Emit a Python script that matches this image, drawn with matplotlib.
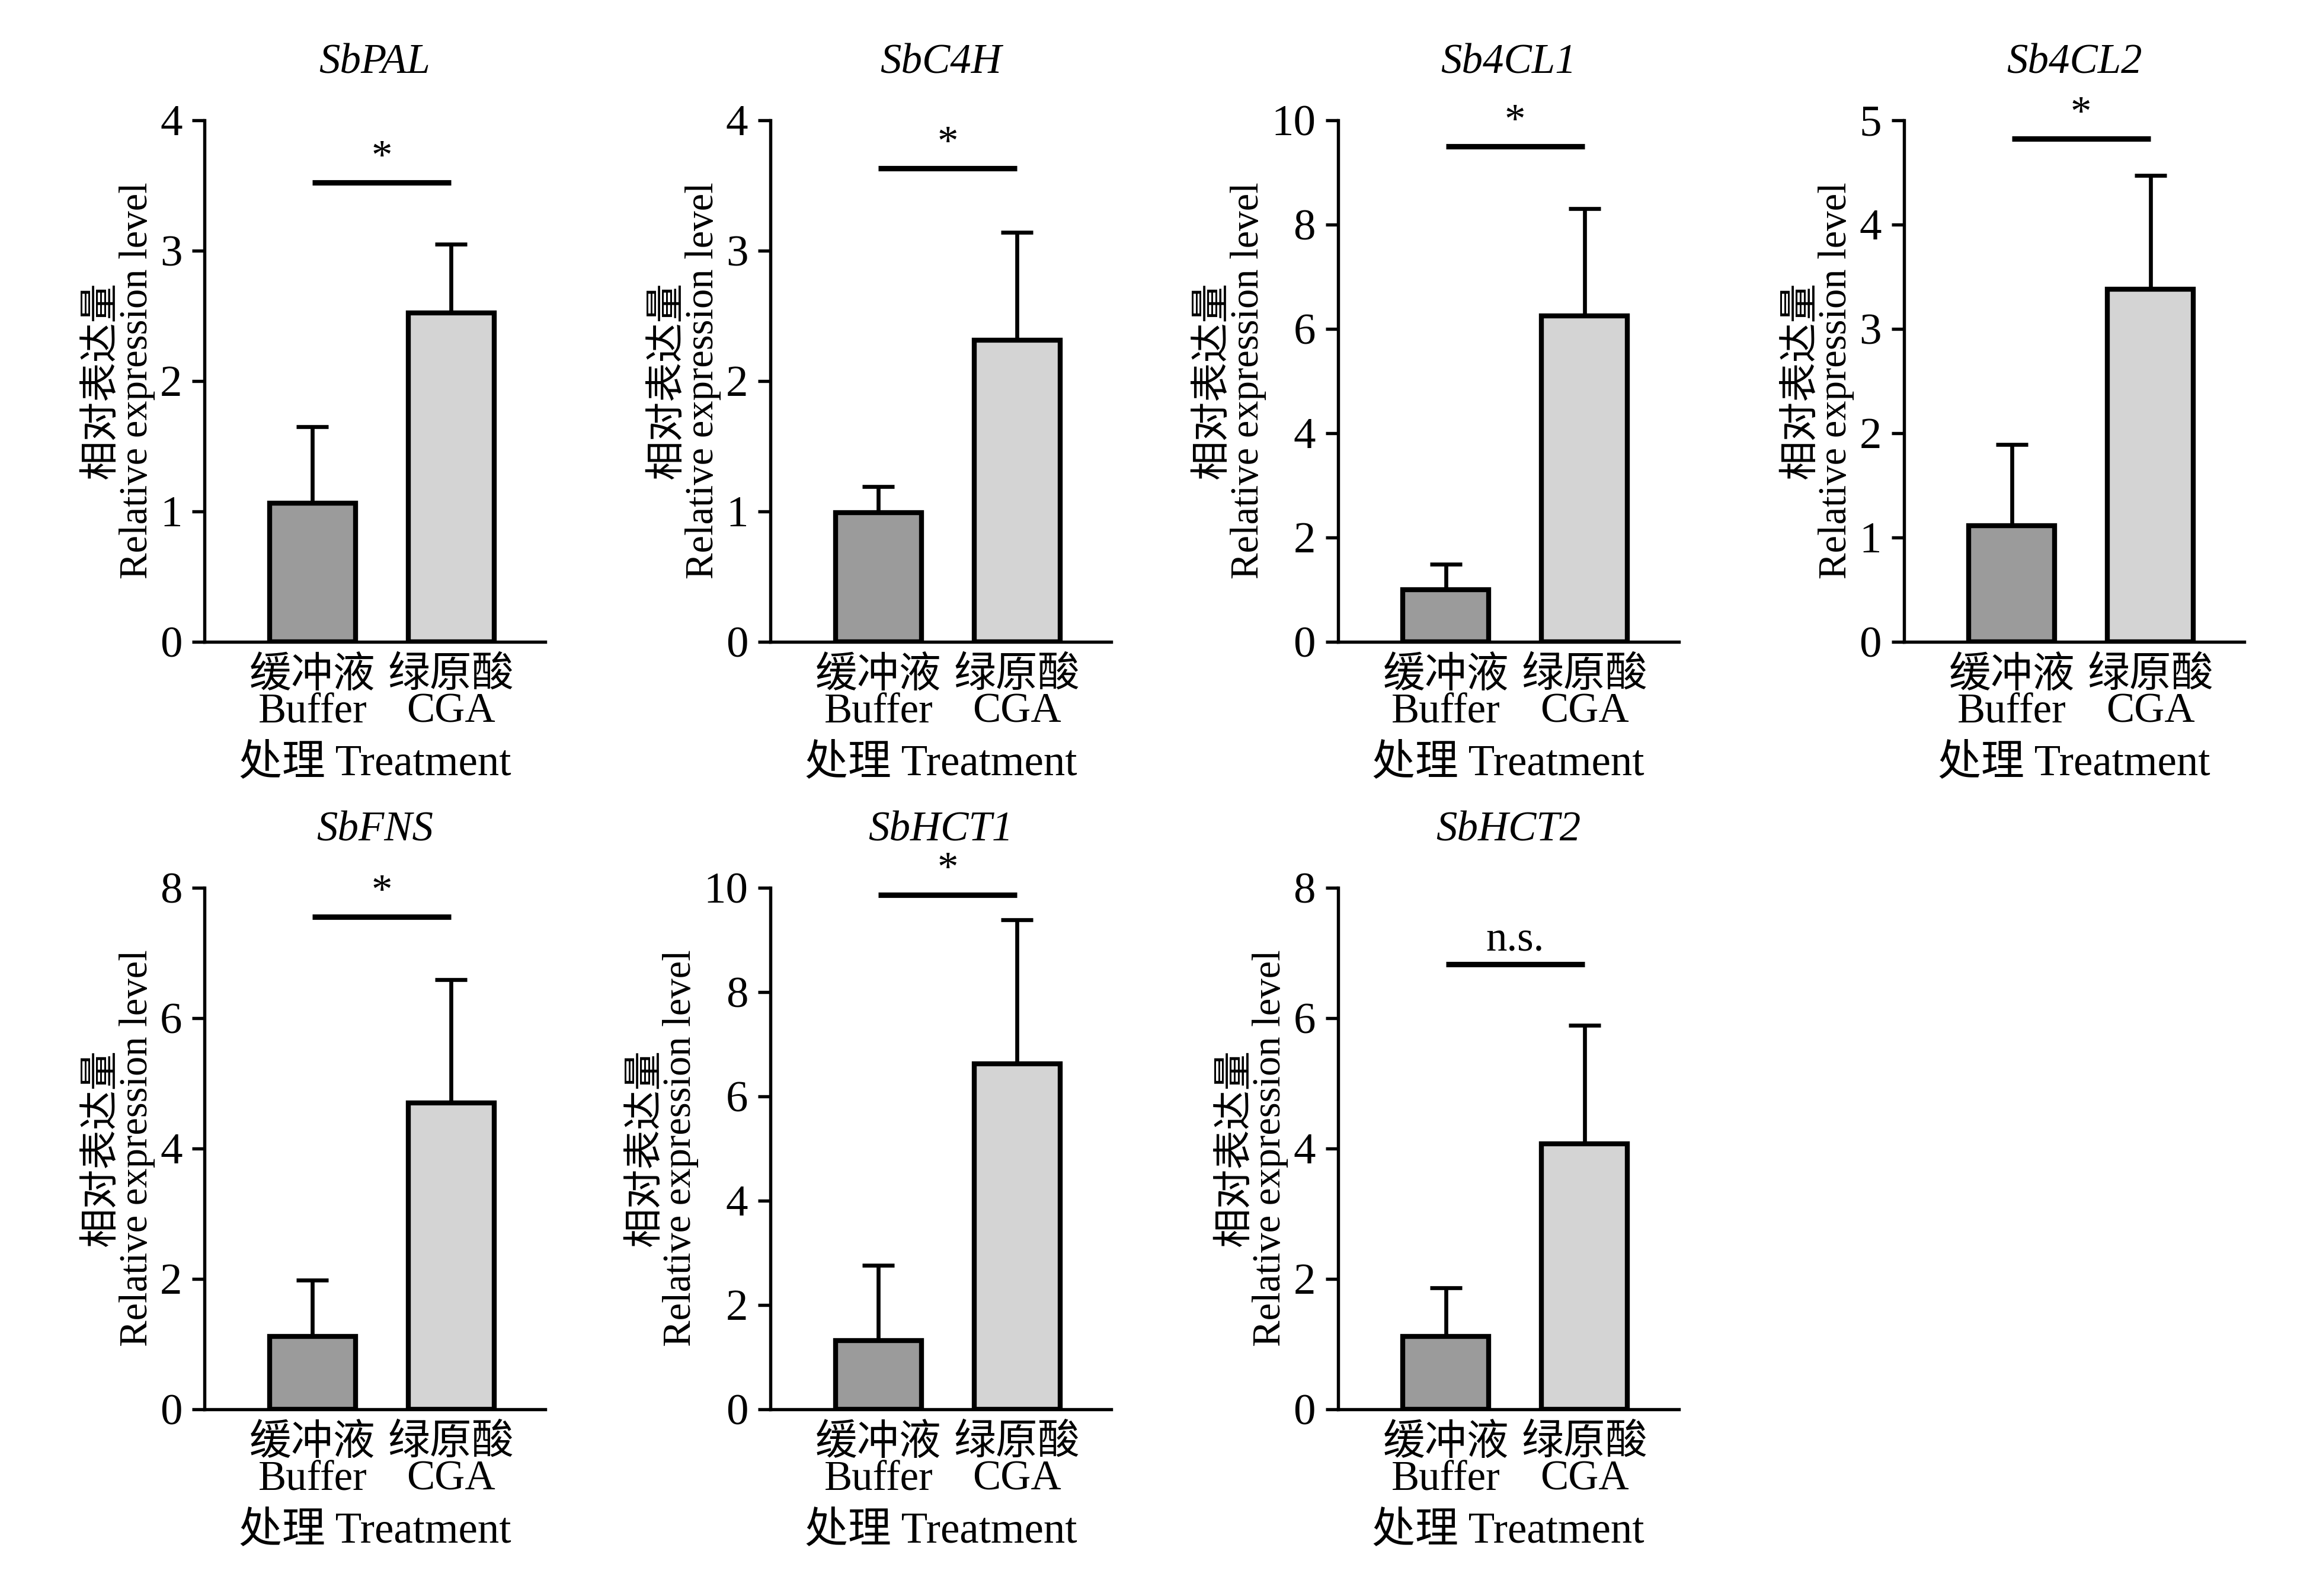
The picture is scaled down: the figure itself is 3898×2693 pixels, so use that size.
import matplotlib
matplotlib.use("Agg")
import matplotlib.pyplot as plt
import numpy as np

plt.rcParams['font.family'] = ['Liberation Serif', 'Noto Sans CJK SC']
plt.rcParams['mathtext.fontset'] = 'stix'

genes = ["SbPAL", "SbC4H", "Sb4CL1", "Sb4CL2", "SbFNS", "SbHCT1", "SbHCT2"]
categories = ["缓冲液\nBuffer", "绿原酸\nCGA"]
buffer_mean = [1.06, 0.99, 0.99, 1.11, 1.11, 1.31, 1.11]
buffer_err = [0.59, 0.20, 0.49, 0.78, 0.87, 1.45, 0.75]
cga_mean = [2.52, 2.31, 6.25, 3.38, 4.70, 6.62, 4.07]
cga_err = [0.53, 0.83, 2.05, 1.09, 1.89, 2.76, 1.82]
sig_y = [3.52, 3.63, 9.49, 4.82, 7.55, 9.86, 6.82]
sig_label = ["*", "*", "*", "*", "*", "*", "n.s."]
ymax = [4, 4, 10, 5, 8, 10, 8]
ystep = [1, 1, 2, 1, 2, 2, 2]

bar_colors = ["#9b9b9b", "#d4d4d4"]
ylabel = "相对表达量\nRelative expression level"
xlabel = "处理 Treatment"

W, H = 3898, 2693
fig = plt.figure(figsize=(W / 300, H / 300), dpi=300)

col_left = [138, 520, 903, 1285]
row_bottom = [433, 951]
disp_w, disp_h = 3898 / 2.5, 2693 / 2.5
ax_w, ax_h = 230, 352

for i, g in enumerate(genes):
    r, c = divmod(i, 4)
    left = col_left[c] / disp_w
    bottom = 1 - row_bottom[r] / disp_h
    ax = fig.add_axes([left, bottom, ax_w / disp_w, ax_h / disp_h])
    x = np.arange(2)
    means = [buffer_mean[i], cga_mean[i]]
    errs = [buffer_err[i], cga_err[i]]
    ax.bar(x, means, width=0.62, color=bar_colors, edgecolor='black', linewidth=2.0, zorder=2)
    ax.errorbar(x, means, yerr=[[0, 0], errs], fmt='none', ecolor='black',
                elinewidth=1.6, capsize=6.5, capthick=1.6, zorder=1)
    ax.plot([0, 1], [sig_y[i], sig_y[i]], color='black', lw=2.2, solid_capstyle='butt')
    ax.annotate(sig_label[i], xy=(0.5, sig_y[i]), xytext=(0, 2), textcoords='offset points',
                ha='center', va='bottom', fontsize=17)
    ax.set_xlim(-0.78, 1.68)
    ax.set_ylim(0, ymax[i])
    ax.set_yticks(np.arange(0, ymax[i] + 0.001, ystep[i]))
    ax.set_xticks(x)
    ax.set_xticklabels(categories, fontsize=17, linespacing=0.92)
    ax.tick_params(axis='x', length=0, pad=6)
    ax.tick_params(axis='y', length=5, width=1.3, labelsize=18, direction='out', pad=4)
    for s in ['top', 'right']:
        ax.spines[s].set_visible(False)
    for s in ['left', 'bottom']:
        ax.spines[s].set_linewidth(1.3)
    ax.set_ylabel(ylabel, fontsize=16, linespacing=0.95, labelpad=2)
    ax.set_xlabel(xlabel, fontsize=17.5, labelpad=5)
    ax.set_title(g, fontsize=17, style='italic', pad=19)

fig.savefig("out.png", dpi=300, facecolor='white')
